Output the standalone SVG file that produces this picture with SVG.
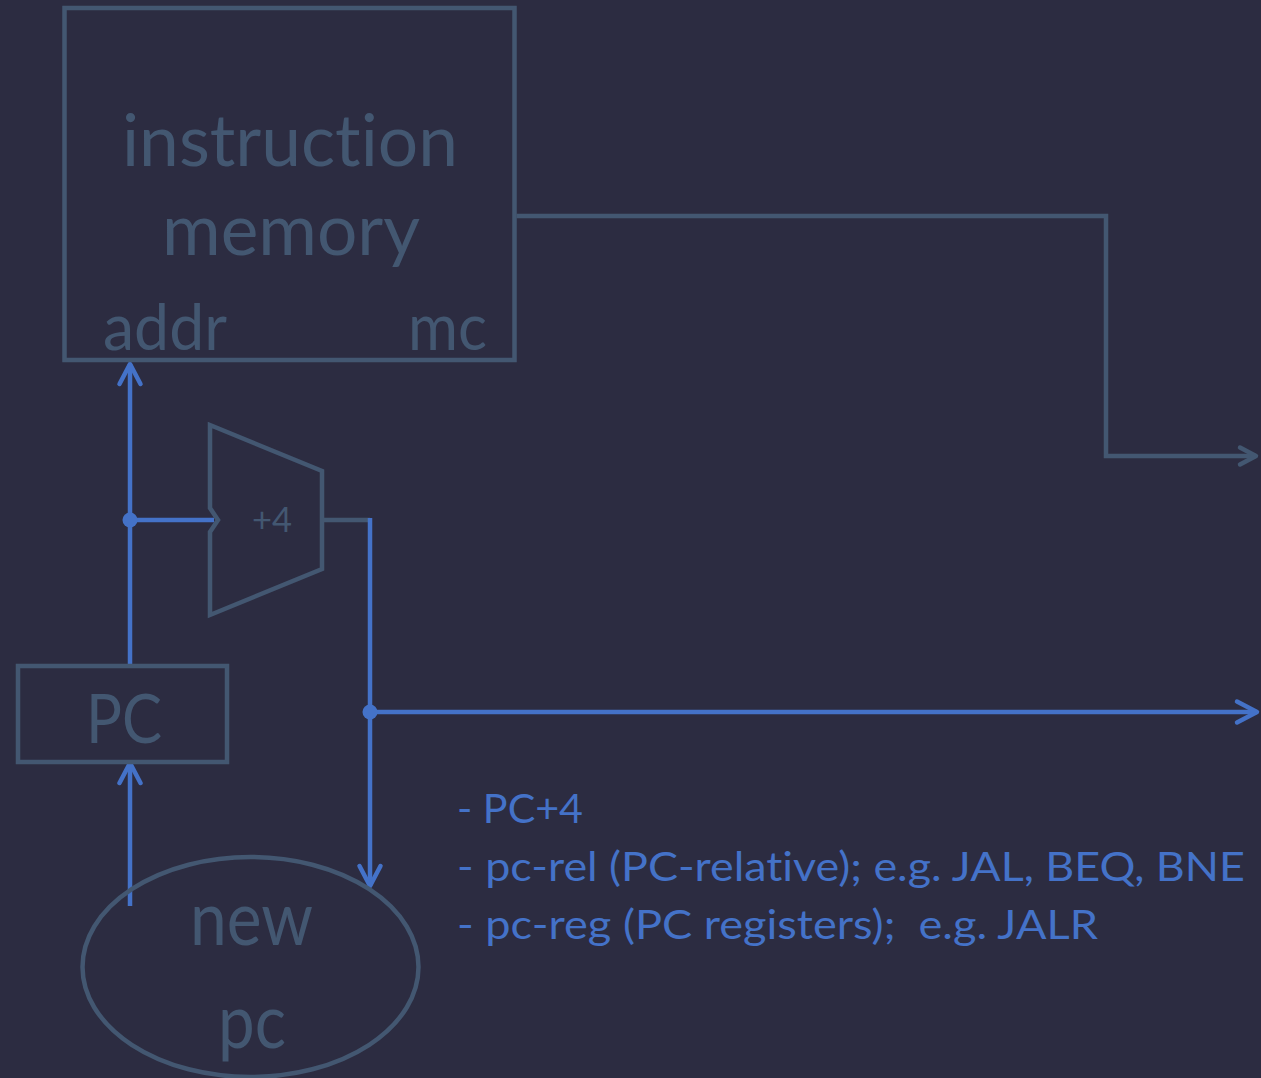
<svg xmlns="http://www.w3.org/2000/svg" width="1261" height="1078" viewBox="0 0 1261 1078">
  <style>
    text { font-variant-ligatures: none; font-feature-settings: "liga" 0, "clig" 0; }
    .box { fill: none; stroke: #435771; stroke-width: 4.5; }
    .lbl { fill: #435771; font-family: Lato, "Source Sans Pro", "Noto Sans", sans-serif; }
    .wire { fill: none; stroke: #4472c8; stroke-width: 4.5; }
    .wire-dim { fill: none; stroke: #435771; stroke-width: 4.5; }
    .dot { fill: #4472c8; }
    .note { fill: #4472c8; font-family: Lato, "Source Sans Pro", "Noto Sans", sans-serif; font-size: 41px; white-space: pre; }
  </style>
  <defs>
    <marker id="arr-blue" markerUnits="userSpaceOnUse" viewBox="-24 -14 28 28" markerWidth="28" markerHeight="28" refX="0" refY="0" orient="auto" overflow="visible">
      <path d="M-20,-10.5 L0,0 L-20,10.5" fill="none" stroke="#4472c8" stroke-width="4.5" stroke-linecap="round" stroke-linejoin="round"/>
    </marker>
    <marker id="arr-dim" markerUnits="userSpaceOnUse" viewBox="-24 -14 28 28" markerWidth="28" markerHeight="28" refX="0" refY="0" orient="auto" overflow="visible">
      <path d="M-16,-8.5 L0,0 L-16,8.5" fill="none" stroke="#435771" stroke-width="4.5" stroke-linecap="round" stroke-linejoin="round"/>
    </marker>
  </defs>

  <rect width="1261" height="1078" fill="#2c2c41"/>

  <!-- connectors -->
  <g id="connectors">
    <!-- instruction word out -->
    <path class="wire-dim" d="M516.5,216 H1106 V456 H1256" marker-end="url(#arr-dim)"/>
    <!-- PC to addr -->
    <path class="wire" d="M130,664 V364" marker-end="url(#arr-blue)"/>
    <!-- PC tap into adder -->
    <path class="wire" d="M130,520 H214"/>
    <circle class="dot" cx="130" cy="520" r="7.5"/>
    <!-- adder result -->
    <path class="wire-dim" d="M322,520 H370"/>
    <path class="wire" d="M370,518 V886" marker-end="url(#arr-blue)"/>
    <path class="wire" d="M370,712 H1257" marker-end="url(#arr-blue)"/>
    <circle class="dot" cx="370" cy="712" r="7.5"/>
    <!-- new pc to PC -->
    <path class="wire" d="M130,906 V763" marker-end="url(#arr-blue)"/>
  </g>

  <!-- instruction memory -->
  <g id="imem">
    <rect class="box" x="64.5" y="8" width="450" height="352"/>
    <text class="lbl" x="290" y="166" font-size="72" text-anchor="middle" textLength="336" lengthAdjust="spacingAndGlyphs">instruction</text>
    <text class="lbl" x="291" y="255" font-size="72" text-anchor="middle" textLength="258" lengthAdjust="spacingAndGlyphs">memory</text>
    <text class="lbl" x="103" y="350" font-size="64" textLength="124" lengthAdjust="spacingAndGlyphs">addr</text>
    <text class="lbl" x="408" y="350" font-size="64" textLength="79" lengthAdjust="spacingAndGlyphs">mc</text>
  </g>

  <!-- +4 adder -->
  <g id="adder">
    <polygon class="box" points="210,425 322,471 322,569 210,615 210,532 218,520 210,508"/>
    <text class="lbl" x="252" y="532" font-size="34" textLength="40" lengthAdjust="spacingAndGlyphs">+4</text>
  </g>

  <!-- program counter -->
  <g id="pc">
    <rect class="box" x="18" y="666" width="209" height="96"/>
    <text class="lbl" x="86" y="743" font-size="67" textLength="76" lengthAdjust="spacingAndGlyphs">PC</text>
  </g>

  <!-- next pc source -->
  <g id="newpc">
    <ellipse class="box" cx="250.5" cy="967" rx="168" ry="110"/>
    <text class="lbl" x="190" y="945" font-size="75" textLength="123" lengthAdjust="spacingAndGlyphs">new</text>
    <text class="lbl" x="218" y="1048" font-size="75" textLength="68" lengthAdjust="spacingAndGlyphs">pc</text>
  </g>

  <!-- next pc options -->
  <g id="notes">
    <text class="note" x="457" y="823" textLength="126" lengthAdjust="spacingAndGlyphs">- PC+4</text>
    <text class="note" x="457" y="881" textLength="788" lengthAdjust="spacingAndGlyphs">- pc-rel (PC-relative); e.g. JAL, BEQ, BNE</text>
    <text class="note" x="457" y="939" textLength="641" lengthAdjust="spacingAndGlyphs">- pc-reg (PC registers);  e.g. JALR</text>
  </g>
</svg>
